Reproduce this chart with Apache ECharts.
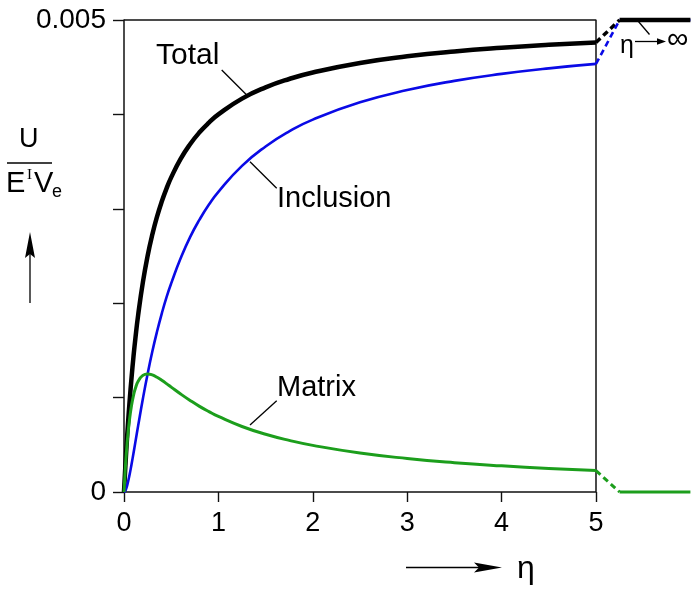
<!DOCTYPE html>
<html><head><meta charset="utf-8">
<script src="https://cdn.jsdelivr.net/npm/echarts@6/dist/echarts.min.js"></script>
<style>html,body{margin:0;padding:0;background:#fff}#c{width:698px;height:590px}</style>
</head><body><div id="c"></div>
<script>
// η values (x axis)
const eta = [0,0.01,0.02,0.03,0.04,0.06,0.08,0.1,0.12,0.15,0.2,0.25,0.3,0.35,0.4,0.45,0.5,0.6,0.7,0.8,0.9,1,1.25,1.5,1.75,2,2.5,3,3.5,4,4.5,5];
// U/(E^I V_e)
const total = [0,0.000192,0.000370,0.000536,0.000690,0.000968,0.001212,0.001429,0.001622,0.001875,0.002222,0.0025,0.002727,0.002917,0.003077,0.003214,0.003333,0.003529,0.003684,0.003810,0.003913,0.004,0.004167,0.004286,0.004375,0.004444,0.004545,0.004615,0.004667,0.004706,0.004737,0.004762];
const inclusion = [0,0.0000074,0.0000274,0.0000574,0.0000951,0.000187,0.000294,0.000408,0.000526,0.000703,0.000988,0.00125,0.001488,0.001700,0.001890,0.002062,0.002210,0.002475,0.002700,0.002885,0.003045,0.00318,0.003455,0.003660,0.003820,0.003945,0.004128,0.004258,0.004355,0.004429,0.004488,0.004535];
const matrix = [0,0.000185,0.000343,0.000478,0.000595,0.000780,0.000918,0.001020,0.001096,0.001172,0.001235,0.00125,0.00124,0.001215,0.001183,0.001148,0.001111,0.001038,0.000970,0.000907,0.000851,0.0008,0.000694,0.000612,0.000547,0.000494,0.000413,0.000355,0.000311,0.000277,0.000249,0.000227];
// η → ∞ limit segment
const limitEta = [5.25, 6];
const totalLimit = 0.005;
const inclusionLimit = 0.005;
const matrixLimit = 0;
// axes
const xTicks = [0,1,2,3,4,5];
const yMax = 0.005, yStep = 0.001;
const yLabels = {0: '0', 0.005: '0.005'};

const FONT = 'Liberation Sans';
const pairs = ys => eta.map((x, i) => [x, ys[i]]);
const last = a => a[a.length - 1];
const xEnd = last(eta);

const blue = '#0a0ae6', green = '#1c9e1c';

function seg(data, color, width, dashed, z) {
  return {
    type: 'line', data, symbol: 'none', clip: false, silent: true, z: z || 2,
    lineStyle: {color, width, type: dashed ? [6, 4] : 'solid', cap: 'butt'}
  };
}
function curve(ys, color, width, z) {
  return {type: 'line', data: pairs(ys), symbol: 'none', smooth: 0.5, clip: false, z,
          silent: true, lineStyle: {color, width, join: 'round'}};
}

const chart = echarts.init(document.getElementById('c'), null, {renderer: 'canvas'});
chart.setOption({
  animation: false,
  backgroundColor: '#fff',
  grid: {left: 124, top: 20, width: 566.4, height: 472, containLabel: false},
  xAxis: {
    type: 'value', min: 0, max: 6, interval: 1,
    axisLine: {show: false},
    splitLine: {show: false},
    axisTick: {show: true, length: 10, customValues: xTicks, lineStyle: {color: '#111', width: 1.4}},
    axisLabel: {customValues: xTicks, margin: 18, fontSize: 27, fontFamily: FONT, color: '#000'}
  },
  yAxis: {
    type: 'value', min: 0, max: yMax, interval: yStep,
    axisLine: {show: true, onZero: false, lineStyle: {color: '#111', width: 1.5}},
    splitLine: {show: false},
    axisTick: {show: true, length: 11, lineStyle: {color: '#111', width: 1.4}},
    axisLabel: {
      margin: 18, fontSize: 28, fontFamily: FONT, color: '#000',
      formatter: v => {
        for (const k in yLabels) if (Math.abs(v - Number(k)) < 1e-9) return yLabels[k];
        return '';
      }
    }
  },
  series: [
    // frame (top, right, bottom) of the plotting box
    seg([[0, yMax], [xEnd, yMax], [xEnd, 0], [0, 0]], '#111', 1.5, false, 1),
    // curves
    curve(total, '#000', 4.5, 3),
    curve(inclusion, blue, 2.6, 4),
    curve(matrix, green, 3, 5),
    // dashed connectors to the limit
    seg([[xEnd, last(total)], [limitEta[0], totalLimit]], '#000', 3.5, true, 3),
    seg([[xEnd, last(inclusion)], [limitEta[0], inclusionLimit]], blue, 2.6, true, 4),
    seg([[xEnd, last(matrix)], [limitEta[0], matrixLimit]], green, 3, true, 5),
    // η → ∞ limit values
    seg([[limitEta[0], inclusionLimit], [limitEta[1], inclusionLimit]], blue, 2.6, false, 2),
    seg([[limitEta[0], totalLimit], [limitEta[1], totalLimit]], '#000', 4.5, false, 3),
    seg([[limitEta[0], matrixLimit], [limitEta[1], matrixLimit]], green, 3, false, 5)
  ],
  graphic: [
    // curve labels and leaders
    {type: 'text', left: 156, top: 41, style: {text: 'Total', font: '30px "Liberation Sans"', fill: '#000'}},
    {type: 'line', shape: {x1: 221.7, y1: 70, x2: 246.7, y2: 95}, style: {stroke: '#000', lineWidth: 1.3}},
    {type: 'text', left: 277, top: 184, style: {text: 'Inclusion', font: '29px "Liberation Sans"', fill: '#000'}},
    {type: 'line', shape: {x1: 250, y1: 161.7, x2: 276.7, y2: 188.3}, style: {stroke: '#000', lineWidth: 1.3}},
    {type: 'text', left: 277, top: 373, style: {text: 'Matrix', font: '29px "Liberation Sans"', fill: '#000'}},
    {type: 'line', shape: {x1: 250, y1: 425, x2: 276.7, y2: 400.7}, style: {stroke: '#000', lineWidth: 1.3}},
    // η → ∞ annotation
    {type: 'line', shape: {x1: 638, y1: 21, x2: 649.5, y2: 34.5}, style: {stroke: '#000', lineWidth: 1.3}},
    {type: 'text', left: 620, top: 34, style: {text: 'η', font: '25px "Liberation Sans"', fill: '#000'}},
    {type: 'line', shape: {x1: 635, y1: 41.5, x2: 659, y2: 41.5}, style: {stroke: '#000', lineWidth: 1.3}},
    {type: 'polygon', shape: {points: [[666, 41.5], [657, 38.3], [657, 44.7]]}, style: {fill: '#000'}},
    {type: 'text', left: 667, top: 25, style: {text: '∞', font: '30px "Liberation Sans"', fill: '#000'}},
    // y axis title: U / (E^I V_e)
    {type: 'text', left: 19, top: 126, style: {text: 'U', font: '27px "Liberation Sans"', fill: '#000'}},
    {type: 'line', shape: {x1: 7, y1: 163, x2: 52, y2: 163}, style: {stroke: '#000', lineWidth: 1.5}},
    {type: 'text', left: 6, top: 169, style: {text: 'E', font: '29px "Liberation Sans"', fill: '#000'}},
    {type: 'text', left: 27, top: 168, style: {text: 'I', font: '15px "Liberation Serif"', fill: '#000'}},
    {type: 'text', left: 34, top: 169, style: {text: 'V', font: '29px "Liberation Sans"', fill: '#000'}},
    {type: 'text', left: 52, top: 183, style: {text: 'e', font: '18px "Liberation Sans"', fill: '#000'}},
    {type: 'line', shape: {x1: 30, y1: 303, x2: 30, y2: 250}, style: {stroke: '#000', lineWidth: 1.3}},
    {type: 'polygon', shape: {points: [[30, 232], [25, 258], [30, 254], [35, 258]]}, style: {fill: '#000'}},
    // x axis title: → η
    {type: 'line', shape: {x1: 406, y1: 567.5, x2: 485, y2: 567.5}, style: {stroke: '#000', lineWidth: 1.3}},
    {type: 'polygon', shape: {points: [[502, 567.5], [474, 562.5], [479, 567.5], [474, 572.5]]}, style: {fill: '#000'}},
    {type: 'text', left: 517, top: 553, style: {text: 'η', font: '32px "Liberation Sans"', fill: '#000'}}
  ]
});
</script></body></html>
